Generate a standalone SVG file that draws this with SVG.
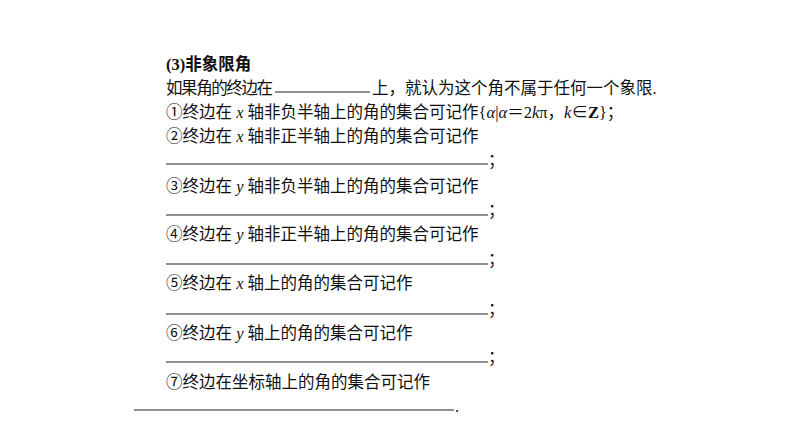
<svg xmlns="http://www.w3.org/2000/svg" width="794" height="447" viewBox="0 0 794 447">
<style>
text{font-family:"Liberation Serif","Noto Sans CJK SC",serif;font-size:16.5px;fill:#111}
.b{font-weight:bold}
.i{font-style:italic}
line{stroke:#222;stroke-width:1}
</style>
<rect width="794" height="447" fill="#fff"/>
<g id="text">
<text x="166" y="70" class="b">(3)非象限角</text>
<text x="166" y="94" textLength="107">如果角的终边在</text>
<text x="372" y="94">上，就认为这个角不属于任何一个象限.</text>
<text x="166" y="118">①终边在 <tspan class="i">x</tspan> 轴非负半轴上的角的集合可记作{<tspan class="i">α</tspan>|<tspan class="i">α</tspan>＝2<tspan class="i">k</tspan>π，<tspan class="i">k</tspan>∈<tspan font-weight="bold">Z</tspan>}；</text>
<text x="166" y="142">②终边在 <tspan class="i">x</tspan> 轴非正半轴上的角的集合可记作</text>
<text x="488" y="166">；</text>
<text x="166" y="192">③终边在 <tspan class="i">y</tspan> 轴非负半轴上的角的集合可记作</text>
<text x="488" y="216">；</text>
<text x="166" y="240">④终边在 <tspan class="i">y</tspan> 轴非正半轴上的角的集合可记作</text>
<text x="488" y="265">；</text>
<text x="166" y="289">⑤终边在 <tspan class="i">x</tspan> 轴上的角的集合可记作</text>
<text x="488" y="315">；</text>
<text x="166" y="339">⑥终边在 <tspan class="i">y</tspan> 轴上的角的集合可记作</text>
<text x="488" y="363">；</text>
<text x="166" y="388">⑦终边在坐标轴上的角的集合可记作</text>
<text x="455" y="412">.</text>
</g>
<g id="blanks">
<line x1="275" y1="92" x2="370" y2="92"/>
<line x1="166" y1="164" x2="488" y2="164"/>
<line x1="166" y1="215" x2="488" y2="215"/>
<line x1="166" y1="264" x2="488" y2="264"/>
<line x1="166" y1="314" x2="488" y2="314"/>
<line x1="166" y1="362" x2="488" y2="362"/>
<line x1="134" y1="410" x2="454" y2="410"/>
</g>
</svg>
